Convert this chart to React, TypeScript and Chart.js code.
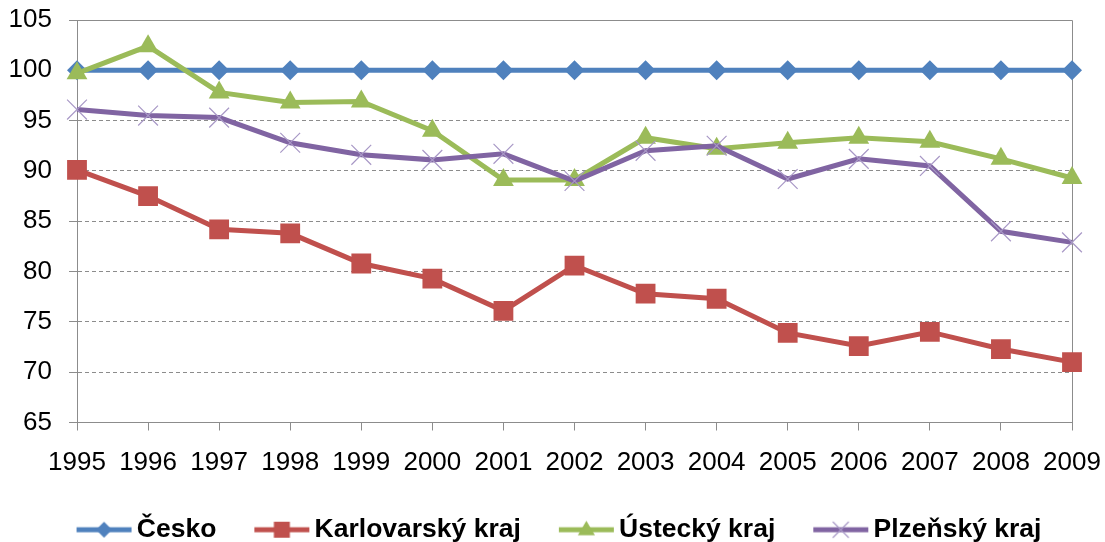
import React, { useEffect, useRef } from 'react';
import { Chart, registerables } from 'chart.js';

Chart.register(...registerables);

const years = ['1995', '1996', '1997', '1998', '1999', '2000', '2001', '2002', '2003', '2004', '2005', '2006', '2007', '2008', '2009'];
const seriesNames = ['Česko', 'Karlovarský kraj', 'Ústecký kraj', 'Plzeňský kraj'];
const cesko = [100, 100, 100, 100, 100, 100, 100, 100, 100, 100, 100, 100, 100, 100, 100];
const karlovarsky = [90.1, 87.5, 84.2, 83.8, 80.8, 79.3, 76.1, 80.6, 77.8, 77.3, 73.9, 72.6, 74.0, 72.3, 71.0];
const ustecky = [99.7, 102.4, 97.8, 96.8, 96.9, 94.0, 89.1, 89.1, 93.3, 92.2, 92.8, 93.3, 92.9, 91.2, 89.3];
const plzensky = [96.1, 95.5, 95.3, 92.8, 91.6, 91.1, 91.7, 89.0, 92.0, 92.5, 89.2, 91.2, 90.5, 84.0, 82.9];
const yMin = 65;
const yMax = 105;
const yStep = 5;

const colors = ['#4F81BD', '#C0504D', '#9BBB59', '#8064A2'];
const crossColor = '#A898C6';
const axisColor = '#8C8C8C';
const FONT = '"Liberation Sans", Arial, sans-serif';

function makeSymbol(idx: number): HTMLCanvasElement {
  const W = 95;
  const H = 28;
  const c = document.createElement('canvas');
  c.width = W;
  c.height = H;
  const g = c.getContext('2d')!;
  const cy = H / 2;
  const x0 = W - 57;
  const x1 = W - 2;
  const cx = (x0 + x1) / 2;
  g.strokeStyle = colors[idx];
  g.lineWidth = 5;
  g.beginPath();
  g.moveTo(x0, cy);
  g.lineTo(x1, cy);
  g.stroke();
  g.fillStyle = colors[idx];
  if (idx === 0) {
    const r = 8;
    g.beginPath();
    g.moveTo(cx - r, cy);
    g.lineTo(cx, cy - r);
    g.lineTo(cx + r, cy);
    g.lineTo(cx, cy + r);
    g.closePath();
    g.fill();
  } else if (idx === 1) {
    const s = 8;
    g.fillRect(cx - s, cy - s, 2 * s, 2 * s);
  } else if (idx === 2) {
    const r = 9;
    g.beginPath();
    g.moveTo(cx, cy - r);
    g.lineTo(cx + r * 0.95, cy + r * 0.6);
    g.lineTo(cx - r * 0.95, cy + r * 0.6);
    g.closePath();
    g.fill();
  } else {
    const r = 8;
    g.strokeStyle = crossColor;
    g.lineWidth = 1.2;
    g.beginPath();
    g.moveTo(cx - r, cy - r);
    g.lineTo(cx + r, cy + r);
    g.moveTo(cx + r, cy - r);
    g.lineTo(cx - r, cy + r);
    g.stroke();
  }
  return c;
}

const frameBorder = {
  id: 'frameBorder',
  afterLayout(chart: any) {
    if (chart.legend) {
      chart.legend.left += 9;
      chart.legend.right += 9;
    }
  },
  beforeDatasetsDraw(chart: any) {
    const { ctx, chartArea } = chart;
    ctx.save();
    ctx.strokeStyle = axisColor;
    ctx.lineWidth = 1;
    ctx.setLineDash([]);
    ctx.beginPath();
    ctx.moveTo(chartArea.left, chartArea.top + 0.5);
    ctx.lineTo(chartArea.right + 0.5, chartArea.top + 0.5);
    ctx.lineTo(chartArea.right + 0.5, chartArea.bottom);
    ctx.stroke();
    ctx.restore();
  },
};

export default function App() {
  const ref = useRef<HTMLCanvasElement | null>(null);

  useEffect(() => {
    document.body.style.margin = '0';
    const canvas = ref.current;
    if (!canvas) return;
    const symbols = [0, 1, 2, 3].map(makeSymbol);
    const seriesData = [cesko, karlovarsky, ustecky, plzensky];
    const styles: any[] = [
      { pointStyle: 'rectRot', pointRadius: 10, pointBorderWidth: 0 },
      { pointStyle: 'rect', pointRadius: 14, pointBorderWidth: 0 },
      { pointStyle: 'triangle', pointRadius: 12, pointBorderWidth: 0 },
      { pointStyle: 'crossRot', pointRadius: 14, pointBorderWidth: 1.2 },
    ];
    const datasets = seriesData.map((d, i) => ({
      label: seriesNames[i],
      data: d,
      borderColor: colors[i],
      backgroundColor: colors[i],
      pointBackgroundColor: colors[i],
      pointBorderColor: i === 3 ? crossColor : colors[i],
      borderWidth: 5,
      tension: 0,
      order: 3 - i,
      ...styles[i],
    }));

    const chart = new Chart(canvas, {
      type: 'line',
      data: { labels: years, datasets },
      plugins: [frameBorder],
      options: {
        responsive: false,
        animation: false,
        events: [],
        layout: { padding: { left: 0, top: 20, right: 33, bottom: 0 } },
        plugins: {
          tooltip: { enabled: false },
          legend: {
            position: 'bottom',
            align: 'center',
            labels: {
              usePointStyle: true,
              pointStyleWidth: 75,
              padding: 10,
              color: '#000',
              font: { family: FONT, size: 26.5, weight: 'bold' },
              generateLabels: () =>
                seriesNames.map((name, i) => ({
                  text: name,
                  fillStyle: colors[i],
                  strokeStyle: colors[i],
                  lineWidth: 0,
                  pointStyle: symbols[i],
                  hidden: false,
                  datasetIndex: i,
                  fontColor: '#000',
                })),
            },
          },
        },
        scales: {
          x: {
            type: 'category',
            offset: false,
            afterFit: (s: any) => {
              s.height = 84;
              s.paddingLeft = 0;
              s.paddingRight = 0;
            },
            grid: {
              drawOnChartArea: false,
              drawTicks: true,
              tickLength: 8,
              color: axisColor,
            },
            border: { display: true, color: axisColor, width: 1 },
            ticks: {
              color: '#000',
              font: { family: FONT, size: 26 },
              padding: 17,
              maxRotation: 0,
              minRotation: 0,
              autoSkip: false,
            },
          },
          y: {
            min: yMin,
            max: yMax,
            afterFit: (s: any) => {
              s.width = 77;
              s.paddingTop = 0;
              s.paddingBottom = 0;
            },
            grid: {
              color: axisColor,
              lineWidth: 1,
              tickLength: 8,
              drawTicks: true,
            },
            border: {
              display: true,
              color: axisColor,
              width: 1,
              dash: (ctx: any) => {
                const v = ctx.tick ? ctx.tick.value : 0;
                return v === yMax || v === yMin ? [] : [4, 3];
              },
            },
            ticks: {
              stepSize: yStep,
              color: '#000',
              font: { family: FONT, size: 26 },
              padding: 17,
            },
          },
        },
      } as any,
    });
    return () => chart.destroy();
  }, []);

  return (
    <div style={{ position: 'absolute', left: 0, top: 0, width: 1105, height: 542, overflow: 'hidden' }}>
      <canvas ref={ref} width={1105} height={553} style={{ display: 'block' }} />
    </div>
  );
}
